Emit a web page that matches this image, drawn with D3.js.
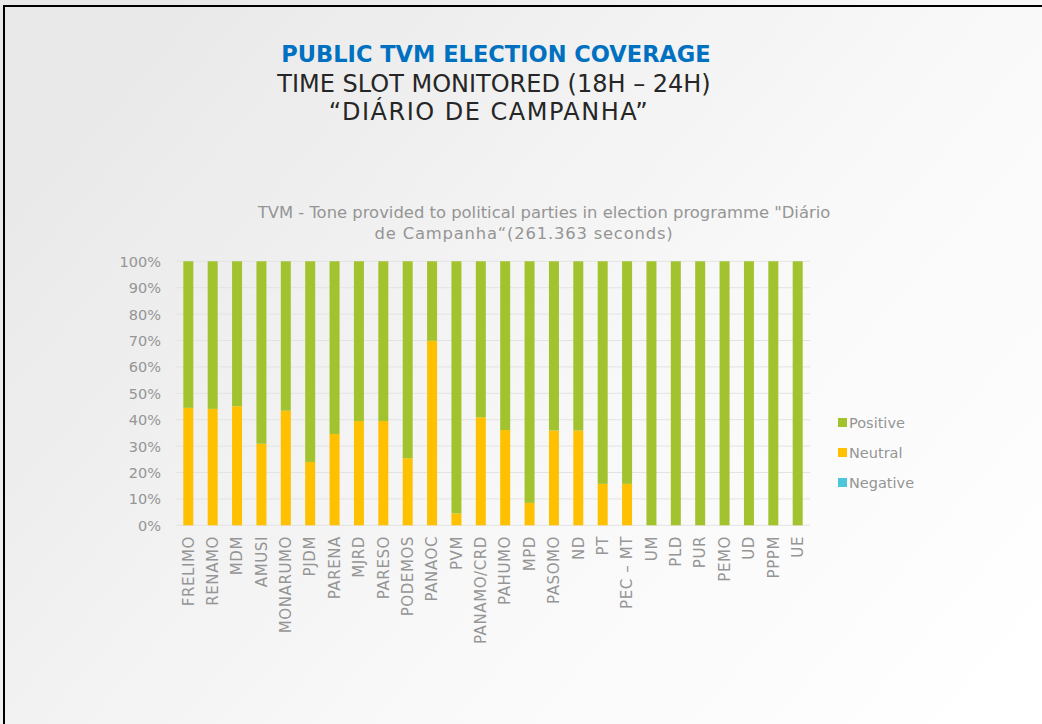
<!DOCTYPE html>
<html><head><meta charset="utf-8">
<script src="https://cdn.jsdelivr.net/npm/d3@7"></script>
<style>
html,body{margin:0;padding:0;overflow:hidden;}
svg{display:block;}
</style></head>
<body>
<svg id="c" width="1042" height="724"></svg>
<script>
const parties = ["FRELIMO","RENAMO","MDM","AMUSI","MONARUMO","PJDM","PARENA","MJRD","PARESO","PODEMOS","PANAOC","PVM","PANAMO/CRD","PAHUMO","MPD","PASOMO","ND","PT","PEC – MT","UM","PLD","PUR","PEMO","UD","PPPM","UE"];
const negative = [0,0,0,0,0,0,0,0,0,0,0,0,0,0,0,0,0,0,0,0,0,0,0,0,0,0];
const neutral  = [44.5,44.1,45.1,30.9,43.4,24.0,34.6,39.5,39.5,25.4,69.9,4.5,40.9,36.1,8.5,35.9,35.9,15.7,15.7,0,0,0,0,0,0,0];
const positive = neutral.map((v,i)=>100 - v - negative[i]);
const seriesNames = ["Negative","Neutral","Positive"];
const seriesColors = {"Negative":"#4BC6DB","Neutral":"#FFC000","Positive":"#A2C22E"};
const yTicks = [0,10,20,30,40,50,60,70,80,90,100];

const svg = d3.select("#c");
const W = 1042, H = 724;
const defs = svg.append("defs");
const g1 = defs.append("linearGradient").attr("id","bg").attr("x1","0").attr("y1","0.3").attr("x2","1").attr("y2","0.9");
g1.append("stop").attr("offset","0").attr("stop-color","#e9e9e9");
g1.append("stop").attr("offset","0.55").attr("stop-color","#f8f8f8");
g1.append("stop").attr("offset","1").attr("stop-color","#ffffff");
svg.append("rect").attr("width",W).attr("height",H).attr("fill","url(#bg)");
// frame
svg.append("line").attr("x1",3).attr("x2",W).attr("y1",6).attr("y2",6).attr("stroke","#000").attr("stroke-width",2);
svg.append("line").attr("x1",4).attr("x2",4).attr("y1",5).attr("y2",H).attr("stroke","#000").attr("stroke-width",2);

const font = "'DejaVu Sans', sans-serif";
svg.append("text").attr("x",496).attr("y",62).attr("text-anchor","middle")
  .attr("font-family",font).attr("font-weight","bold").attr("font-size",22.5).attr("fill","#0070C0")
  .text("PUBLIC TVM ELECTION COVERAGE");
svg.append("text").attr("x",494).attr("y",92).attr("text-anchor","middle")
  .attr("font-family",font).attr("font-size",24).attr("fill","#262626")
  .text("TIME SLOT MONITORED (18H – 24H)");
svg.append("text").attr("x",489).attr("y",120).attr("text-anchor","middle")
  .attr("font-family",font).attr("font-size",24).attr("letter-spacing",1.5).attr("fill","#262626")
  .text("“DIÁRIO DE CAMPANHA”");

svg.append("text").attr("x",544).attr("y",218).attr("text-anchor","middle")
  .attr("font-family",font).attr("font-size",16.4).attr("fill","#959595")
  .text("TVM - Tone provided to political parties in election programme \"Diário");
svg.append("text").attr("x",524).attr("y",239).attr("text-anchor","middle")
  .attr("font-family",font).attr("font-size",16.4).attr("letter-spacing",0.8).attr("fill","#959595")
  .text("de Campanha“(261.363 seconds)");

const x = d3.scaleBand().domain(parties).range([176,810]).paddingInner(0.59).paddingOuter(0.3);
const y = d3.scaleLinear().domain([0,100]).range([525.3,261.3]);

// gridlines
svg.append("g").selectAll("line").data(yTicks).join("line")
  .attr("x1",176).attr("x2",810).attr("y1",d=>y(d)).attr("y2",d=>y(d))
  .attr("stroke","#e3e3e3").attr("stroke-width",1);

const rows = parties.map((p,i)=>({party:p,Negative:negative[i],Neutral:neutral[i],Positive:positive[i]}));
const stack = d3.stack().keys(seriesNames)(rows);
svg.append("g").selectAll("g").data(stack).join("g").attr("fill",d=>seriesColors[d.key])
  .selectAll("rect").data(d=>d).join("rect")
  .attr("x",d=>x(d.data.party)).attr("width",x.bandwidth())
  .attr("y",d=>y(d[1])).attr("height",d=>Math.max(0,y(d[0])-y(d[1])));

// y axis
const ya = d3.axisLeft(y).tickValues(yTicks).tickFormat(d=>d+"%").tickSize(0).tickPadding(0);
const yg = svg.append("g").attr("transform","translate(161,0)").call(ya);
yg.select(".domain").remove();
yg.selectAll("text").attr("font-family",font).attr("font-size",14.5).attr("fill","#959595").attr("dy","0.35em");

// x axis
const xa = d3.axisBottom(x).tickSize(0).tickPadding(0);
const xg = svg.append("g").attr("transform","translate(0,536)").call(xa);
xg.select(".domain").remove();
xg.selectAll("text").attr("font-family",font).attr("font-size",15).attr("letter-spacing",0.6).attr("fill","#959595")
  .attr("transform","rotate(-90)").attr("text-anchor","end").attr("x",0).attr("y",0).attr("dy","0.35em");

// legend
const leg = ["Positive","Neutral","Negative"];
const lg = svg.append("g").selectAll("g").data(leg).join("g")
  .attr("transform",(d,i)=>`translate(838,${423+i*30})`);
lg.append("rect").attr("x",0).attr("y",-5).attr("width",9).attr("height",9).attr("fill",d=>seriesColors[d]);
lg.append("text").attr("x",11).attr("y",0).attr("dy","0.35em").attr("font-family",font).attr("font-size",14.5).attr("fill","#959595").text(d=>d);
</script>
</body></html>
